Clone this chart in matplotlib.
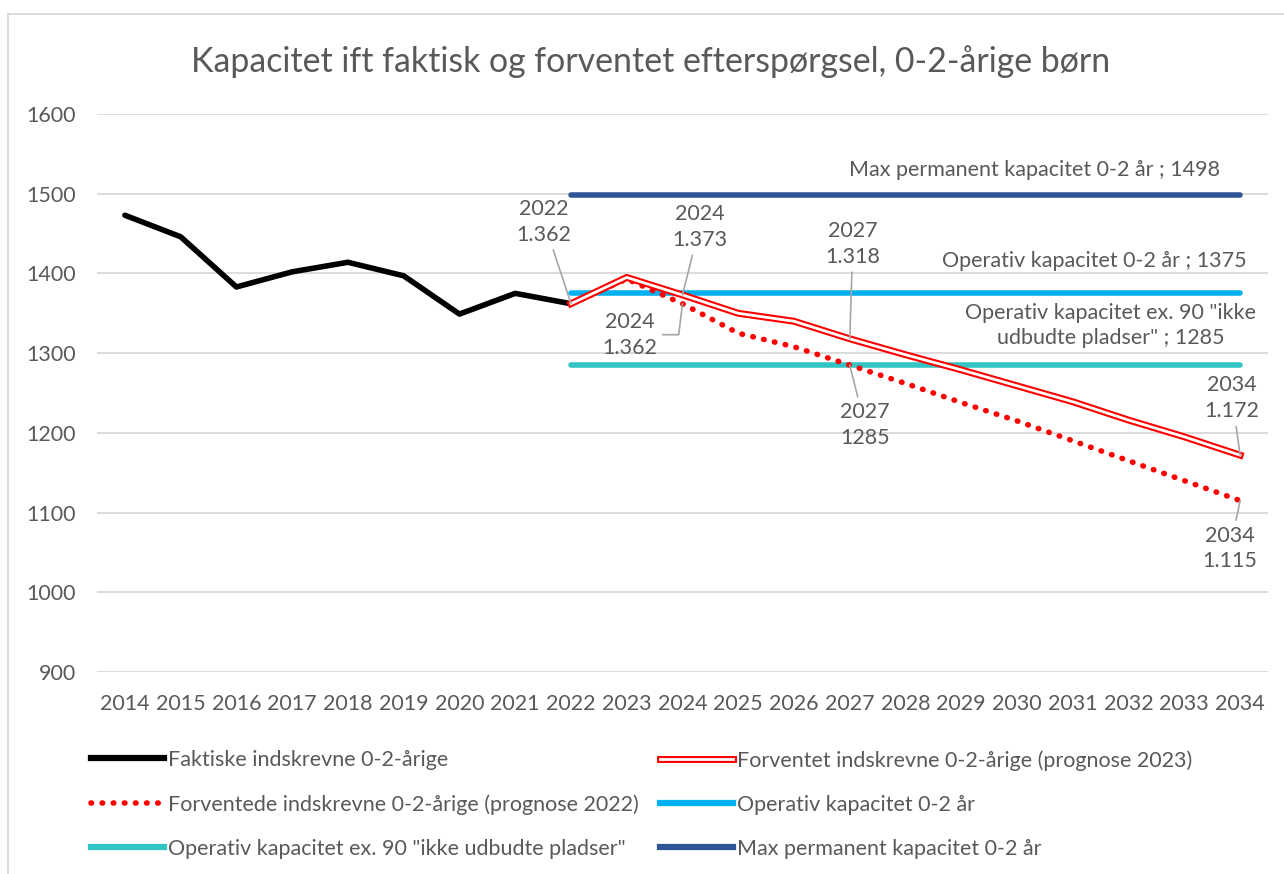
import matplotlib.pyplot as plt
from matplotlib.lines import Line2D
from matplotlib.legend_handler import HandlerTuple
from matplotlib.patches import Rectangle

plt.rcParams['font.family'] = ['Lato', 'DejaVu Sans']

# data
years_actual = list(range(2014, 2023))
actual = [1473, 1446, 1383, 1402, 1414, 1397, 1349, 1375, 1362]

years_prog = list(range(2022, 2035))
prog_2023 = [1362, 1395, 1373, 1350, 1340, 1318, 1298, 1279, 1259, 1239, 1216, 1195, 1172]
prog_2022 = [1362, 1393, 1362, 1325, 1308, 1285, 1262, 1238, 1215, 1190, 1165, 1140, 1115]

cap_years = [2022, 2034]
max_cap = 1498
op_cap = 1375
op_cap_ex90 = 1285

all_years = list(range(2014, 2035))

grey = '#595959'
c_max = '#2F5597'
c_op = '#00B0F0'
c_ex = '#33C4C4'
dots = (0, (0.1, 1.9))

fig = plt.figure(figsize=(12.84, 8.74), dpi=100)
ax = fig.add_axes([97/1284, 1-672/874, (1268-97)/1284, (672-114)/874])

# kapacitetslinjer
ax.plot(cap_years, [max_cap]*2, color=c_max, lw=4, solid_capstyle='round', zorder=2)
ax.plot(cap_years, [op_cap]*2, color=c_op, lw=4, solid_capstyle='round', zorder=2)
ax.plot(cap_years, [op_cap_ex90]*2, color=c_ex, lw=4, solid_capstyle='round', zorder=2)

# faktiske
ax.plot(years_actual, actual, color='black', lw=4, solid_capstyle='round', zorder=4)

# prognose 2022 (prikket)
ax.plot(years_prog, prog_2022, color='red', lw=4, linestyle=dots,
        dash_capstyle='round', zorder=5)

# prognose 2023 (dobbelt linje)
ax.plot(years_prog, prog_2023, color='red', lw=5, zorder=6)
ax.plot(years_prog, prog_2023, color='white', lw=2, zorder=7)

ax.set_xlim(2013.5, 2034.5)
ax.set_ylim(900, 1600)
ax.set_yticks(range(900, 1700, 100))
ax.set_xticks(all_years)
ax.grid(axis='y', color='#D9D9D9', lw=1.3, zorder=0)
for s in ax.spines.values():
    s.set_visible(False)
ax.tick_params(length=0, labelsize=15.5, labelcolor=grey)
ax.tick_params(axis='y', pad=15)
ax.tick_params(axis='x', pad=16)

# etiketter paa punkter
def lbl(x, y, txt, dx, dy, conn='arc3'):
    ax.annotate(txt, xy=(x, y), xytext=(dx, dy), textcoords='offset pixels',
                ha='center', va='center', fontsize=15.5, color=grey, linespacing=1.35,
                arrowprops=dict(arrowstyle='-', color='#A6A6A6', lw=1.2,
                                shrinkA=2, shrinkB=0, connectionstyle=conn), zorder=8)

lbl(years_prog[0], prog_2023[0], '2022\n1.362', -27, 82)
lbl(years_prog[2], prog_2023[2], '2024\n1.373', 17, 68)
lbl(years_prog[2], prog_2022[2], '2024\n1.362', -53, -31, 'angle,angleA=0,angleB=83,rad=0')
lbl(years_prog[5], prog_2023[5], '2027\n1.318', 3, 95)
lbl(years_prog[5], prog_2022[5], '2027\n1285', 15, -60)
lbl(years_prog[-1], prog_2023[-1], '2034\n1.172', -8, 57)
lbl(years_prog[-1], prog_2022[-1], '2034\n1.115', -10, -48)

# etiketter paa kapacitetslinjer
ax.annotate('Max permanent kapacitet 0-2 år ; 1498', xy=(cap_years[1], max_cap),
            xytext=(-20, 25), textcoords='offset pixels', ha='right', va='center',
            fontsize=15.5, color=grey)
ax.annotate('Operativ kapacitet 0-2 år ; 1375', xy=(cap_years[1], op_cap),
            xytext=(7, 32), textcoords='offset pixels', ha='right', va='center',
            fontsize=15.5, color=grey)
ax.annotate('Operativ kapacitet ex. 90 "ikke\nudbudte pladser" ; 1285',
            xy=(cap_years[1], op_cap_ex90), xytext=(16, 40), textcoords='offset pixels',
            ha='right', va='center', multialignment='center', fontsize=15.5,
            color=grey, linespacing=1.3)

fig.text(651/1284, 1-62/874, 'Kapacitet ift faktisk og forventet efterspørgsel, 0-2-årige børn',
         ha='center', va='center', fontsize=24.4, color=grey)

# legend, to kolonner
h_fakt = Line2D([], [], color='black', lw=4.5)
h_p22 = Line2D([], [], color='red', lw=4, linestyle=dots, dash_capstyle='round')
h_ex = Line2D([], [], color=c_ex, lw=4.5)
h_p23 = (Line2D([], [], color='red', lw=5), Line2D([], [], color='white', lw=2))
h_op = Line2D([], [], color=c_op, lw=4.5)
h_max = Line2D([], [], color=c_max, lw=4.5)

leg_kw = dict(loc='upper left', frameon=False, fontsize=15.5, labelcolor=grey,
              handlelength=3.4, handletextpad=0.2, labelspacing=1.12, borderpad=0,
              borderaxespad=0, handler_map={tuple: HandlerTuple(ndivide=1, pad=0)})
leg1 = fig.legend([h_fakt, h_p22, h_ex],
                  ['Faktiske indskrevne 0-2-årige',
                   'Forventede indskrevne 0-2-årige (prognose 2022)',
                   'Operativ kapacitet ex. 90 "ikke udbudte pladser"'],
                  bbox_to_anchor=(91/1284, 1-750/874), **leg_kw)
leg2 = fig.legend([h_p23, h_op, h_max],
                  ['Forventet indskrevne 0-2-årige (prognose 2023)',
                   'Operativ kapacitet 0-2 år',
                   'Max permanent kapacitet 0-2 år'],
                  bbox_to_anchor=(660/1284, 1-750/874), **leg_kw)

fig.patches.append(Rectangle((8/1284, -0.1), 1.2, 1-14/874+0.1, transform=fig.transFigure,
                             fill=False, edgecolor='#D9D9D9', lw=1.3))

fig.savefig('out.png', dpi=100)
